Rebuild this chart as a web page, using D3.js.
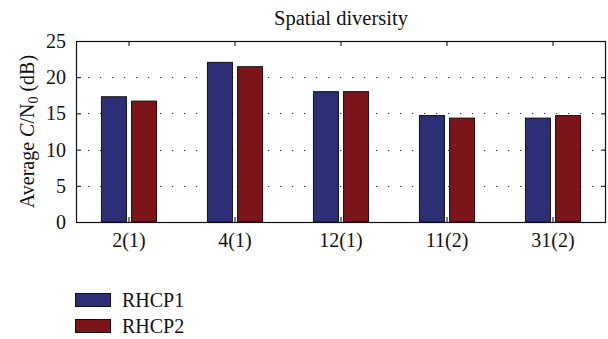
<!DOCTYPE html>
<html>
<head>
<meta charset="utf-8">
<script src="https://cdn.jsdelivr.net/npm/d3@7"></script>
<style>
  body { margin: 0; background: #fff; }
</style>
</head>
<body>
<div id="chart"></div>
<script>
// values
const categories = ["2(1)", "4(1)", "12(1)", "11(2)", "31(2)"];
const seriesNames = ["RHCP1", "RHCP2"];
const rhcp1 = [17.3, 22.05, 18.0, 14.7, 14.35];
const rhcp2 = [16.7, 21.45, 18.0, 14.35, 14.7];
const yTicks = [0, 5, 10, 15, 20, 25];
const colors = ["#2c2f75", "#7b1519"];

const serif = "'Liberation Serif', 'Times New Roman', Times, serif";
const width = 608;
const height = 339;
const margin = { top: 41, right: 2, bottom: 117, left: 76 };

const svg = d3.select("#chart")
  .append("svg")
  .attr("width", width)
  .attr("height", height)
  .attr("font-family", serif)
  .style("display", "block");

const x0 = d3.scaleBand()
  .domain(categories)
  .range([margin.left, width - margin.right])
  .paddingInner(0.48)
  .paddingOuter(0.24);

const x1 = d3.scaleBand()
  .domain(seriesNames)
  .range([0, x0.bandwidth()])
  .paddingInner(0.17);

const y = d3.scaleLinear()
  .domain([0, 25])
  .range([height - margin.bottom, margin.top]);

const rows = categories.map((c, i) => ({
  cat: c,
  values: [
    { name: seriesNames[0], value: rhcp1[i] },
    { name: seriesNames[1], value: rhcp2[i] }
  ]
}));

// dotted horizontal grid
svg.append("g")
  .selectAll("line")
  .data(yTicks.filter(t => t > 0 && t < 25))
  .join("line")
    .attr("x1", margin.left)
    .attr("x2", width - margin.right)
    .attr("y1", d => Math.round(y(d)) + 0.5)
    .attr("y2", d => Math.round(y(d)) + 0.5)
    .attr("stroke", "#333")
    .attr("stroke-width", 1.2)
    .attr("stroke-dasharray", "1.2,10.8");

// bars
svg.append("g")
  .selectAll("g")
  .data(rows)
  .join("g")
    .attr("transform", d => `translate(${x0(d.cat)},0)`)
  .selectAll("rect")
  .data(d => d.values)
  .join("rect")
    .attr("x", d => x1(d.name))
    .attr("y", d => y(d.value))
    .attr("width", x1.bandwidth())
    .attr("height", d => y(0) - y(d.value))
    .attr("fill", (d, i) => colors[i])
    .attr("stroke", "#111")
    .attr("stroke-width", 1);

const xAxis = g => {
  g.attr("transform", `translate(0, ${height - margin.bottom})`)
    .call(d3.axisBottom(x0).tickSizeInner(-5).tickSizeOuter(0).tickPadding(11))
    .attr("font-size", "20px")
    .attr("font-family", serif);
  g.select(".domain").remove();
  g.selectAll("text").attr("fill", "#111");
};

const xAxisTop = g => {
  g.attr("transform", `translate(0, ${margin.top})`)
    .call(d3.axisTop(x0).tickSizeInner(-5).tickSizeOuter(0).tickFormat(""));
  g.select(".domain").remove();
};

const yAxis = g => {
  g.attr("transform", `translate(${margin.left}, 0)`)
    .call(d3.axisLeft(y).tickValues(yTicks).tickSizeInner(-5).tickSizeOuter(0).tickPadding(10))
    .attr("font-size", "20px")
    .attr("font-family", serif);
  g.select(".domain").remove();
  g.selectAll("text").attr("fill", "#111");
};

const yAxisRight = g => {
  g.attr("transform", `translate(${width - margin.right}, 0)`)
    .call(d3.axisRight(y).tickValues(yTicks).tickSizeInner(-5).tickSizeOuter(0).tickFormat(""));
  g.select(".domain").remove();
};

svg.append("g").call(xAxis);
svg.append("g").call(xAxisTop);
svg.append("g").call(yAxis);
svg.append("g").call(yAxisRight);

// box
svg.append("rect")
  .attr("x", margin.left + 0.5)
  .attr("y", margin.top + 0.5)
  .attr("width", width - margin.right - margin.left - 1)
  .attr("height", height - margin.bottom - margin.top)
  .attr("fill", "none")
  .attr("stroke", "#111")
  .attr("stroke-width", 1.2);

// title
svg.append("text")
  .attr("x", (margin.left + width - margin.right) / 2)
  .attr("y", 25)
  .attr("text-anchor", "middle")
  .attr("font-size", "20.5px")
  .attr("fill", "#111")
  .text("Spatial diversity");

// y label
const ylab = svg.append("text")
  .attr("transform", `translate(34, ${(margin.top + height - margin.bottom) / 2}) rotate(-90)`)
  .attr("text-anchor", "middle")
  .attr("font-size", "20px")
  .attr("fill", "#111");
ylab.append("tspan").text("Average ");
ylab.append("tspan").attr("font-style", "italic").text("C");
ylab.append("tspan").text("/N");
ylab.append("tspan").attr("font-size", "14px").attr("dy", "4").text("0");
ylab.append("tspan").attr("dy", "-4").text(" (dB)");

// legend
const legend = svg.append("g")
  .selectAll("g")
  .data(seriesNames)
  .join("g")
    .attr("transform", (d, i) => `translate(75, ${293 + i * 26})`);

legend.append("rect")
  .attr("x", 0.5)
  .attr("y", 0.5)
  .attr("width", 35)
  .attr("height", 13)
  .attr("fill", (d, i) => colors[i])
  .attr("stroke", "#111");

legend.append("text")
  .attr("x", 47)
  .attr("y", 14)
  .attr("font-size", "20px")
  .attr("fill", "#111")
  .text(d => d);
</script>
</body>
</html>
